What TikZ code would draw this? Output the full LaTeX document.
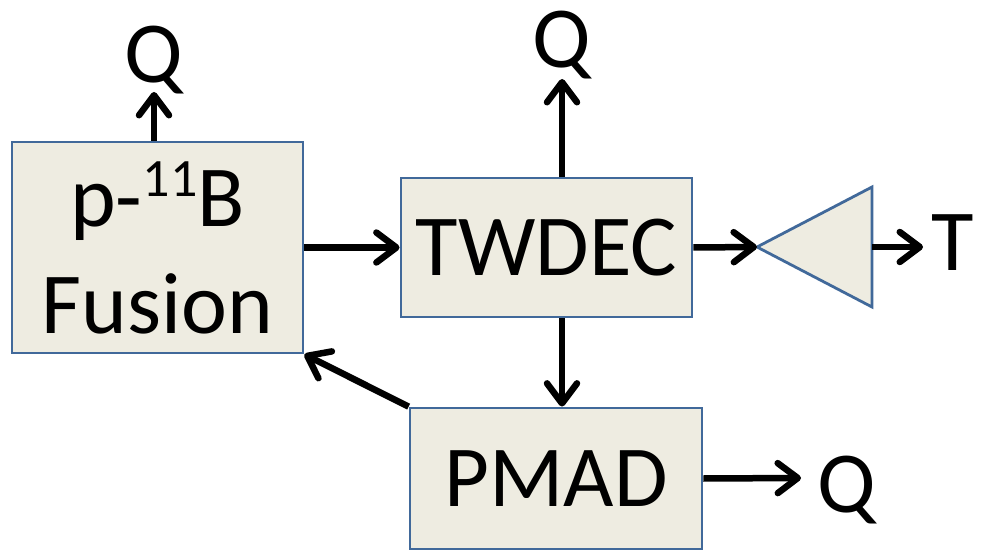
\documentclass[tikz,border=0pt]{standalone}
\usepackage{fontspec}
\setmainfont{Carlito}
\usetikzlibrary{arrows.meta,calc}
\definecolor{boxfill}{HTML}{EEECE1}
\definecolor{boxline}{HTML}{41699A}
\begin{document}
\begin{tikzpicture}[x=1pt,y=-1pt,
  blk/.style={draw=boxline,fill=boxfill,line width=2.8pt,inner sep=0pt,align=center,
    font=\fontsize{87}{107}\selectfont},
  lbl/.style={inner sep=0pt,font=\fontsize{87}{107}\selectfont},
  arr/.style={line width=6.5pt,-{Straight Barb[length=20pt,width=30pt,line cap=round,line join=round]}}]
\useasboundingbox (0,0) rectangle (983,556);
% blocks
\node[blk,minimum width=291pt,minimum height=211pt] (fu) at (157.5,247.5)
  {p-\raisebox{30pt}{\fontsize{54}{54}\selectfont 11}B\\Fusion};
\node[blk,minimum width=291pt,minimum height=139pt] (tw) at (546.5,247.5) {TWDEC};
\node[blk,minimum width=292pt,minimum height=141pt] (pm) at (556,478.5) {PMAD};
% amplifier triangle
\coordinate (ampin) at (757,247);
\coordinate (ampout) at (872,247);
\draw[boxline,fill=boxfill,line width=2.8pt,line join=miter]
  (ampin) -- (872,187) -- (872,307) -- cycle;
% labels
\node[lbl,anchor=base] (qfu) at (154,83) {Q};
\node[lbl,anchor=base] (qtw) at (562,68) {Q};
\node[lbl,anchor=base west] (qpm) at (817,512) {Q};
\node[lbl,anchor=base west] (tt) at (931,270) {T};
% connectors
\draw[arr] (fu.north -| qfu.south) -- ([yshift=-9pt]qfu.base);
\draw[arr] (tw.north -| qtw.south) -- ([yshift=-11pt]qtw.base);
\draw[arr] (fu.east) -- (tw.west);
\draw[arr] (tw.east) -- (ampin);
\draw[arr] (ampout) -- ($(tt.base west)+(-8,-23)$);
\draw[arr] (tw.south -| qtw.south) -- (pm.north -| qtw.south);
\draw[arr] (pm.north west) -- (fu.south east);
\draw[arr] (pm.east) -- ($(qpm.base west)+(-16,-34)$);
\end{tikzpicture}
\end{document}
